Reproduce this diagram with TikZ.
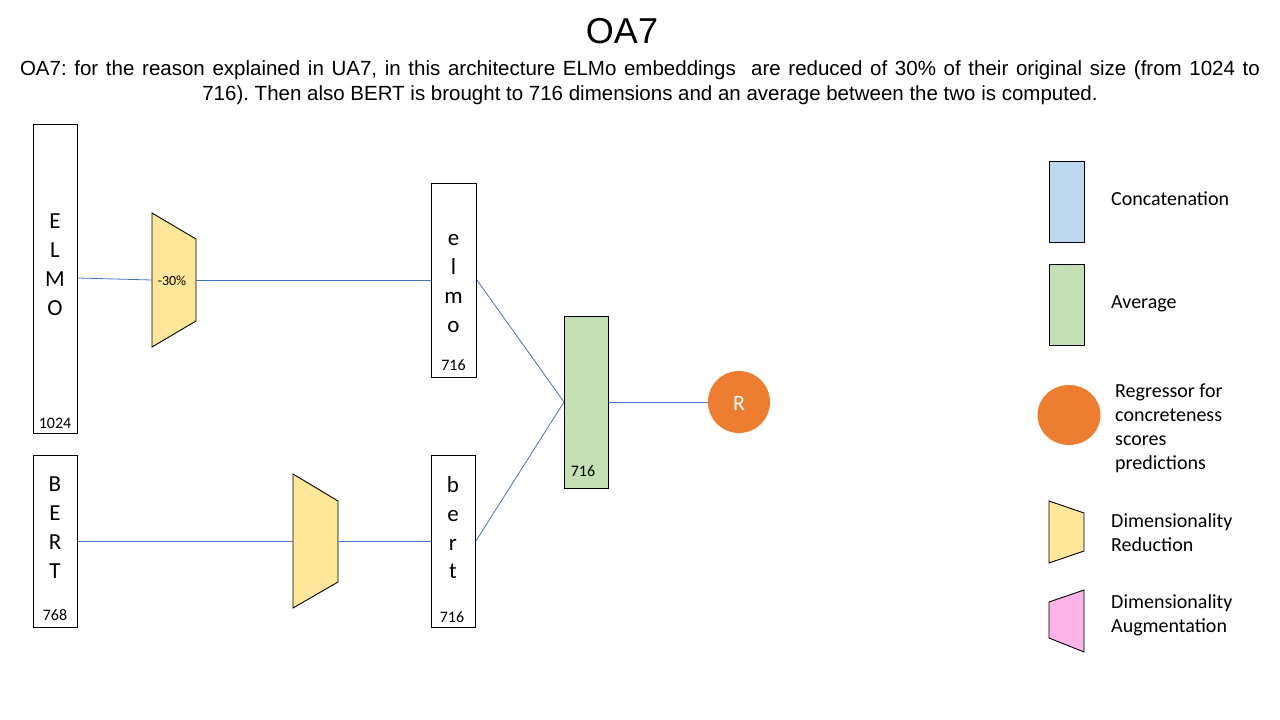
\documentclass[tikz,border=0pt]{standalone}
\usepackage{fontspec}
\usetikzlibrary{shapes.geometric}
\setmainfont{Carlito}
\newfontfamily\arialf{Liberation Sans}
\definecolor{linec}{HTML}{4472C4}
\definecolor{yel}{HTML}{FFE699}
\definecolor{grn}{HTML}{C5E0B4}
\definecolor{blu}{HTML}{BDD7EE}
\definecolor{org}{HTML}{ED7D31}
\definecolor{pnk}{HTML}{FBB3E8}
\frenchspacing
\begin{document}
\begin{tikzpicture}[x=1pt,y=-1pt,
  box/.style={draw=black, line width=0.9pt, inner sep=0pt, anchor=north west},
  conn/.style={draw=linec, line width=0.8pt},
  big/.style={font=\fontsize{23}{27}\selectfont, inner sep=0pt, anchor=base},
  small/.style={font=\fontsize{16}{19}\selectfont, inner sep=0pt, anchor=base},
  legtext/.style={font=\fontsize{20}{24}\selectfont, inner sep=0pt, anchor=base west},
  trap/.style={draw=black, line width=0.9pt, fill=yel}]
\useasboundingbox (0,0) rectangle (1280,720);
% title
\node[font=\arialf\fontsize{36}{40}\selectfont, inner sep=0pt, anchor=base] (title) at (622,43) {OA7};
\node[font=\arialf\fontsize{20.5}{25}\selectfont, inner sep=0pt, anchor=base] (sub1) at (640,75)
  {\makebox[1240pt][s]{OA7: for the reason explained in UA7, in this architecture ELMo embeddings\ \ are reduced of 30\% of their original size (from 1024 to}};
\node[font=\arialf\fontsize{20.5}{25}\selectfont, inner sep=0pt, anchor=base] (sub2) at (650,100)
  {716). Then also BERT is brought to 716 dimensions and an average between the two is computed.};
% boxes
\node[box, minimum width=44pt, minimum height=309pt] (elmo) at (33,124) {};
\node[box, minimum width=44pt, minimum height=172pt] (bert) at (33,455) {};
\node[box, minimum width=45pt, minimum height=194pt] (elmos) at (431,183) {};
\node[box, minimum width=44pt, minimum height=172pt] (berts) at (431,455) {};
\node[box, fill=grn, minimum width=44pt, minimum height=172pt] (avg) at (564,316) {};
\node[circle, fill=org, minimum size=62pt, inner sep=0pt] (reg) at (739,402) {};
\node[font=\fontsize{22}{26}\selectfont, text=white, inner sep=0pt, anchor=base] (rl) at (739,410) {R};
% box letters
\foreach \t/\y [count=\i] in {E/228,L/257,M/286,O/315} \node[big] (el\i) at (55,\y) {\t};
\node[small] (n1) at (55,428) {1024};
\foreach \t/\y [count=\i] in {e/245,l/274,m/303,o/332} \node[big] (es\i) at (453.5,\y) {\t};
\node[small] (n2) at (453.5,370) {716};
\foreach \t/\y [count=\i] in {B/491,E/520,R/549,T/578} \node[big] (bl\i) at (55,\y) {\t};
\node[small] (n3) at (55,620) {768};
\foreach \t/\y [count=\i] in {b/492,e/521,r/550,t/578} \node[big] (bs\i) at (453,\y) {\t};
\node[small] (n4) at (452,622) {716};
\node[small] (n5) at (583,476) {716};
% trapezoids
\draw[trap] (152,213) -- (196,239) -- (196,321) -- (152,347) -- cycle;
\coordinate (t1l) at (152,280);
\coordinate (t1r) at (196,280);
\node[font=\fontsize{14}{17}\selectfont, inner sep=0pt, anchor=base] (pct) at (172,285) {-30\%};
\draw[trap] (293,474) -- (338,501) -- (338,582) -- (293,608) -- cycle;
\coordinate (t2l) at (293,541);
\coordinate (t2r) at (338,541);
% connectors
\draw[conn] (elmo.east |- 0,278) -- (t1l);
\draw[conn] (t1r) -- (elmos.west |- t1r);
\draw[conn] (bert.east |- t2l) -- (t2l);
\draw[conn] (t2r) -- (berts.west |- t2r);
\coordinate (avgin) at (avg.west |- 0,402);
\draw[conn] (elmos.east |- t1r) -- (avgin);
\draw[conn] (berts.east |- t2r) -- (avgin);
\draw[conn] (avg.east |- reg) -- (reg);
% legend
\node[box, fill=blu, minimum width=35pt, minimum height=81pt] (lg1) at (1049,161) {};
\node[legtext] (lt1) at (1111,205) {Concatenation};
\node[box, fill=grn, minimum width=35pt, minimum height=81pt] (lg2) at (1049,264) {};
\node[legtext] (lt2) at (1111,308) {Average};
\node[ellipse, fill=org, minimum width=63pt, minimum height=60pt, inner sep=0pt] (lg3) at (1069,415) {};
\node[legtext, align=left, font=\fontsize{20}{24}\selectfont, anchor=north west] (lt3) at (1115,384)
  {Regressor for\\concreteness\\scores\\predictions};
\draw[trap] (1049,501) -- (1084,513) -- (1084,551) -- (1049,563) -- cycle;
\node[legtext, align=left, anchor=north west] (lt4) at (1111,513) {Dimensionality\\Reduction};
\draw[trap, fill=pnk] (1049,602) -- (1084,590) -- (1084,652) -- (1049,638) -- cycle;
\node[legtext, align=left, anchor=north west] (lt5) at (1111,594) {Dimensionality\\Augmentation};
\end{tikzpicture}
\end{document}
